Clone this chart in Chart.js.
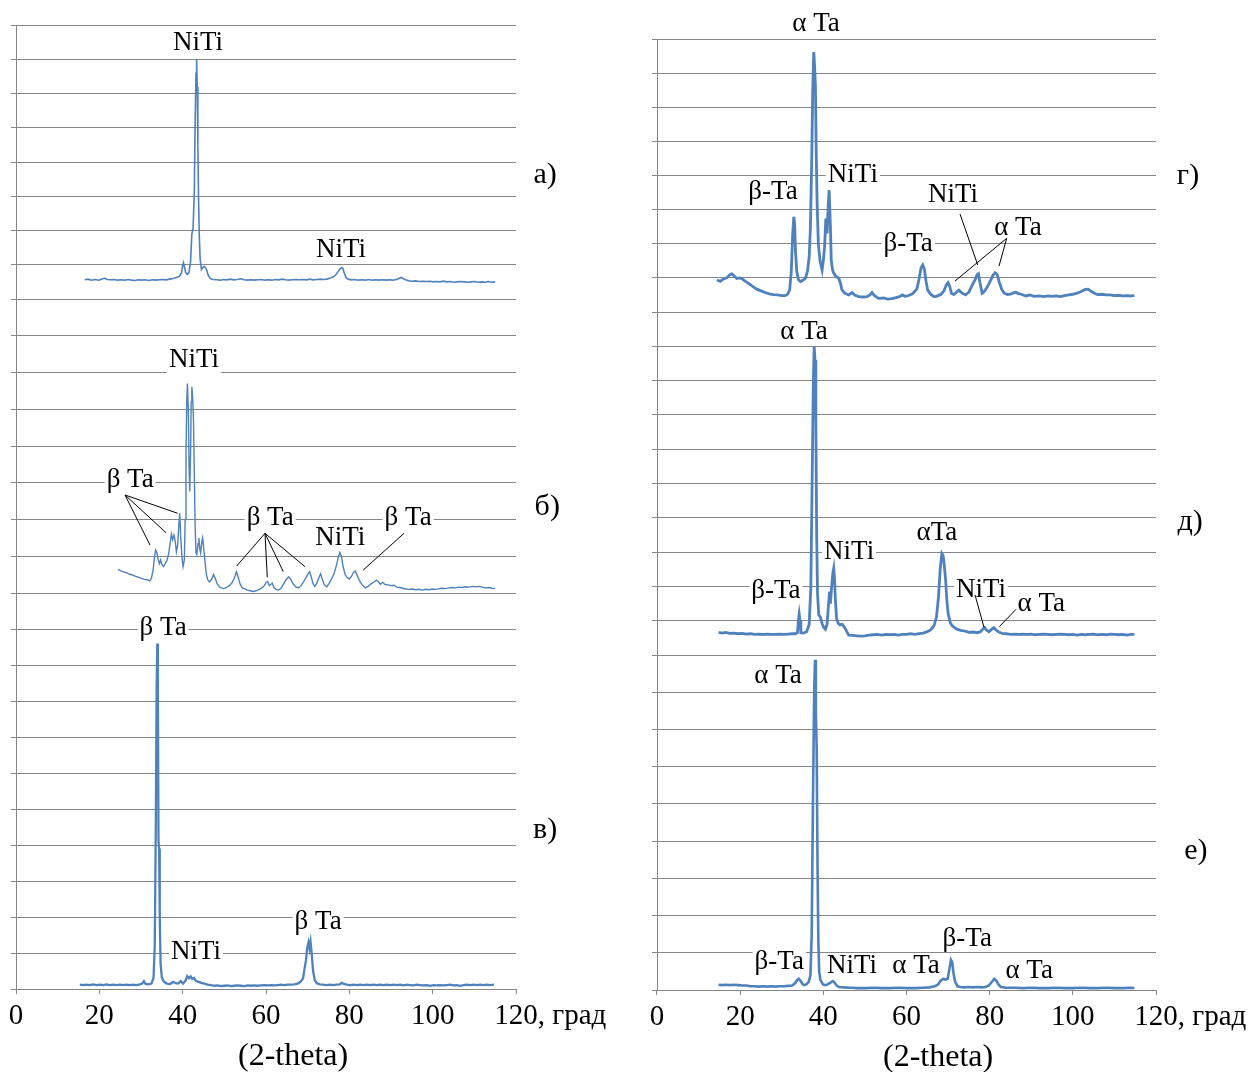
<!DOCTYPE html>
<html lang="ru">
<head>
<meta charset="utf-8">
<title>Рентгенограммы NiTi / Ta</title>
<script src="https://cdn.jsdelivr.net/npm/chart.js@4.4.1/dist/chart.umd.min.js"></script>
<style>
  html, body { margin: 0; padding: 0; background: #ffffff; }
  #wrap { position: relative; width: 1254px; height: 1072px; overflow: hidden; }
  canvas { position: absolute; top: 0; }
  #left { left: 0; }
  #right { left: 627px; }
</style>
</head>
<body>
<div id="wrap">
  <canvas id="left" width="627" height="1072"></canvas>
  <canvas id="right" width="627" height="1072"></canvas>
</div>
<script>
// ---- axis ----
const xTicks = [0, 20, 40, 60, 80, 100, 120];
const axisUnit = 'град';
const axisTitle = '(2-theta)';

// ---- diffraction patterns: [2θ, intensity (grid divisions above the panel floor)] ----
const patternA = [
  [16.5,0.56],[17.3,0.58],[18.1,0.55],[19.0,0.57],[19.8,0.55],[20.6,0.58],[21.2,0.61],[21.9,0.57],[22.7,0.56],[23.5,0.57],
  [24.4,0.55],[25.2,0.56],[26.0,0.55],[26.9,0.57],[27.7,0.55],[28.5,0.54],[29.4,0.56],[30.2,0.55],[31.0,0.56],[31.9,0.54],
  [32.7,0.56],[33.5,0.55],[34.4,0.56],[35.2,0.57],[36.0,0.56],[36.9,0.58],[37.7,0.6],[38.5,0.63],[39.2,0.66],[39.7,0.75],
  [40.0,0.98],[40.2,1.06],[40.4,0.95],[40.7,0.78],[41.1,0.72],[41.5,0.76],[41.9,1.1],[42.2,1.9],[42.5,2.05],[42.8,3.2],
  [43.0,5.2],[43.2,6.6],[43.35,7.0],[43.5,6.2],[43.65,4.5],[43.8,3.0],[44.0,1.8],[44.2,1.15],[44.5,0.86],[44.9,0.93],
  [45.3,0.95],[45.7,0.87],[46.1,0.7],[46.6,0.6],[47.3,0.57],[48.1,0.56],[49.0,0.55],[49.8,0.57],[50.6,0.56],[51.4,0.58],
  [52.3,0.56],[53.1,0.57],[53.9,0.59],[54.7,0.56],[55.6,0.55],[56.4,0.56],[57.2,0.55],[58.0,0.56],[58.9,0.57],[59.7,0.55],
  [60.5,0.56],[61.4,0.55],[62.2,0.57],[63.0,0.56],[63.9,0.58],[64.7,0.56],[65.5,0.55],[66.3,0.56],[67.2,0.57],[68.0,0.56],
  [68.8,0.57],[69.7,0.56],[70.5,0.58],[71.3,0.56],[72.2,0.57],[73.0,0.58],[73.8,0.57],[74.6,0.58],[75.4,0.61],[76.1,0.64],
  [76.7,0.7],[77.3,0.8],[77.8,0.88],[78.2,0.92],[78.5,0.88],[78.8,0.75],[79.2,0.63],[79.7,0.58],[80.5,0.56],[81.3,0.57],
  [82.1,0.55],[83.0,0.56],[83.8,0.55],[84.6,0.57],[85.5,0.55],[86.3,0.56],[87.1,0.55],[88.0,0.56],[88.8,0.55],[89.6,0.56],
  [90.4,0.55],[91.3,0.57],[91.9,0.6],[92.4,0.63],[92.9,0.6],[93.5,0.56],[94.3,0.53],[95.1,0.52],[95.9,0.53],[96.8,0.51],
  [97.6,0.52],[98.4,0.51],[99.3,0.52],[100.1,0.5],[100.9,0.51],[101.8,0.5],[102.6,0.52],[103.4,0.5],[104.2,0.51],[105.1,0.49],
  [105.9,0.5],[106.7,0.51],[107.6,0.5],[108.4,0.49],[109.2,0.5],[110.1,0.51],[110.9,0.49],[111.7,0.5],[112.6,0.49],[113.4,0.51],
  [114.2,0.49],[115.0,0.5]
];

const patternB = [
  [24.5,0.64],[25.2,0.6],[25.9,0.57],[26.6,0.55],[27.3,0.51],[28.0,0.49],[28.7,0.45],[29.4,0.43],[30.1,0.4],[30.8,0.37],
  [31.5,0.36],[32.1,0.33],[32.5,0.4],[32.9,0.62],[33.2,0.95],[33.5,1.17],[33.8,1.1],[34.1,0.92],[34.4,0.8],[34.7,0.9],
  [35.0,0.78],[35.4,0.72],[35.8,0.8],[36.2,0.88],[36.6,1.05],[37.0,1.35],[37.3,1.6],[37.6,1.45],[37.9,1.58],[38.2,1.42],
  [38.5,1.12],[38.8,1.3],[39.1,1.9],[39.3,2.17],[39.5,1.6],[39.8,1.0],[40.1,0.72],[40.4,0.9],[40.6,2.0],[40.8,3.8],
  [41.0,5.3],[41.15,5.7],[41.35,5.0],[41.55,3.4],[41.7,2.76],[41.9,3.8],[42.05,5.2],[42.2,5.61],[42.4,5.3],[42.6,4.7],
  [42.8,3.2],[43.0,1.8],[43.2,1.1],[43.4,1.05],[43.7,1.35],[43.9,1.5],[44.1,1.2],[44.3,1.09],[44.6,1.4],[44.8,1.5],
  [45.1,1.15],[45.4,0.8],[45.7,0.5],[46.0,0.36],[46.4,0.3],[46.9,0.36],[47.4,0.5],[47.8,0.4],[48.3,0.25],[48.8,0.17],
  [49.3,0.14],[49.9,0.12],[50.5,0.15],[51.2,0.2],[51.8,0.27],[52.4,0.4],[52.9,0.58],[53.3,0.44],[53.8,0.24],[54.3,0.14],
  [54.9,0.11],[55.5,0.08],[56.2,0.06],[56.9,0.04],[57.6,0.06],[58.3,0.09],[59.0,0.14],[59.6,0.2],[60.1,0.3],[60.4,0.31],
  [60.8,0.2],[61.2,0.24],[61.5,0.27],[61.9,0.15],[62.4,0.1],[63.0,0.08],[63.6,0.13],[64.2,0.24],[64.8,0.36],[65.4,0.44],
  [65.9,0.38],[66.5,0.25],[67.1,0.17],[67.8,0.14],[68.4,0.2],[69.0,0.3],[69.6,0.42],[70.1,0.52],[70.5,0.58],[70.9,0.42],
  [71.3,0.25],[71.7,0.18],[72.2,0.27],[72.7,0.42],[73.1,0.52],[73.5,0.38],[74.0,0.22],[74.6,0.17],[75.2,0.27],[75.8,0.4],
  [76.4,0.55],[76.9,0.75],[77.3,0.95],[77.7,1.1],[78.1,1.0],[78.5,0.72],[79.0,0.5],[79.5,0.42],[80.0,0.38],[80.5,0.45],
  [81.0,0.56],[81.4,0.6],[81.9,0.48],[82.5,0.32],[83.1,0.22],[83.8,0.14],[84.5,0.18],[85.2,0.25],[85.9,0.3],[86.5,0.35],
  [87.0,0.3],[87.5,0.24],[88.0,0.29],[88.6,0.23],[89.3,0.22],[90.0,0.2],[90.7,0.21],[91.4,0.16],[92.1,0.15],[92.8,0.13],
  [93.5,0.11],[94.3,0.1],[95.1,0.11],[95.9,0.09],[96.7,0.1],[97.5,0.08],[98.3,0.1],[99.1,0.09],[99.9,0.11],[100.7,0.1],
  [101.5,0.12],[102.3,0.13],[103.1,0.12],[103.9,0.14],[104.7,0.15],[105.5,0.14],[106.3,0.16],[107.1,0.15],[107.9,0.17],[108.7,0.16],
  [109.5,0.18],[110.3,0.17],[111.1,0.18],[111.9,0.16],[112.7,0.14],[113.5,0.15],[114.3,0.13],[115.0,0.12]
];

const patternV = [
  [15.3,0.12],[16.1,0.11],[16.9,0.12],[17.7,0.11],[18.5,0.13],[19.3,0.11],[20.1,0.12],[20.9,0.11],[21.7,0.13],[22.5,0.11],
  [23.3,0.12],[24.1,0.11],[24.9,0.12],[25.7,0.11],[26.5,0.12],[27.3,0.11],[28.1,0.12],[28.9,0.11],[29.7,0.13],[30.3,0.15],
  [30.7,0.22],[31.1,0.14],[31.8,0.13],[32.5,0.15],[33.0,0.3],[33.3,1.2],[33.55,4.5],[33.75,8.3],[33.9,9.6],[34.05,8.2],
  [34.2,4.1],[34.35,3.9],[34.5,2.0],[34.7,0.7],[35.0,0.32],[35.5,0.2],[36.2,0.15],[37.0,0.14],[37.7,0.2],[38.3,0.16],
  [38.9,0.15],[39.5,0.22],[40.1,0.15],[40.7,0.24],[41.1,0.36],[41.5,0.3],[41.9,0.35],[42.3,0.28],[42.7,0.31],[43.2,0.22],
  [43.8,0.2],[44.5,0.17],[45.2,0.15],[46.0,0.12],[46.8,0.11],[47.6,0.09],[48.4,0.1],[49.2,0.08],[50.0,0.09],[50.8,0.1],
  [51.6,0.08],[52.4,0.09],[53.2,0.1],[54.0,0.09],[54.8,0.08],[55.6,0.1],[56.4,0.09],[57.2,0.1],[58.0,0.09],[58.8,0.1],
  [59.6,0.11],[60.4,0.1],[61.2,0.11],[62.0,0.1],[62.8,0.11],[63.6,0.12],[64.4,0.11],[65.2,0.12],[66.0,0.12],[66.8,0.13],
  [67.6,0.15],[68.3,0.2],[68.9,0.3],[69.3,0.6],[69.6,0.8],[69.9,1.15],[70.2,1.3],[70.45,1.12],[70.7,1.31],[71.0,0.95],
  [71.3,0.5],[71.7,0.25],[72.2,0.16],[72.9,0.13],[73.7,0.12],[74.5,0.11],[75.3,0.12],[76.1,0.11],[76.9,0.12],[77.7,0.13],
  [78.2,0.17],[78.7,0.14],[79.4,0.12],[80.2,0.11],[81.0,0.12],[81.8,0.11],[82.6,0.12],[83.4,0.11],[84.2,0.12],[85.0,0.11],
  [85.8,0.12],[86.6,0.11],[87.4,0.12],[88.2,0.11],[89.0,0.12],[89.8,0.11],[90.6,0.12],[91.4,0.11],[92.2,0.12],[93.0,0.1],
  [93.8,0.12],[94.6,0.11],[95.4,0.1],[96.2,0.12],[97.0,0.11],[97.8,0.1],[98.6,0.11],[99.4,0.09],[100.2,0.11],[101.0,0.1],
  [101.8,0.11],[102.6,0.1],[103.4,0.11],[104.2,0.12],[105.0,0.1],[105.8,0.11],[106.6,0.09],[107.4,0.11],[108.2,0.12],[109.0,0.11],
  [109.8,0.12],[110.6,0.11],[111.4,0.12],[112.2,0.11],[113.0,0.12],[113.8,0.11],[114.7,0.12]
];

const patternG = [
  [14.4,0.94],[15.2,0.9],[16.0,0.97],[16.8,1.0],[17.4,1.08],[18.0,1.12],[18.6,1.05],[19.2,0.98],[19.8,1.0],[20.4,0.98],
  [21.0,0.92],[22.0,0.84],[23.0,0.75],[24.0,0.67],[25.0,0.62],[26.0,0.57],[27.0,0.53],[28.0,0.51],[29.0,0.5],[30.0,0.48],
  [30.8,0.48],[31.4,0.52],[31.9,0.64],[32.3,1.2],[32.6,2.2],[32.9,2.79],[33.1,2.6],[33.3,1.8],[33.6,1.2],[34.0,0.95],
  [34.5,0.89],[35.0,0.92],[35.7,0.99],[36.2,1.2],[36.6,1.62],[36.9,2.5],[37.2,4.4],[37.45,6.5],[37.7,7.62],[37.9,7.2],
  [38.1,6.6],[38.3,4.6],[38.5,3.2],[38.8,2.0],[39.2,1.5],[39.7,1.23],[40.0,1.5],[40.3,1.91],[40.6,2.74],[40.9,2.3],
  [41.2,3.2],[41.4,3.57],[41.7,2.5],[41.9,1.52],[42.2,1.25],[42.5,1.14],[43.0,1.05],[43.7,0.99],[44.1,0.85],[44.5,0.64],
  [45.2,0.55],[46.1,0.5],[46.9,0.57],[47.5,0.5],[48.5,0.45],[49.5,0.44],[50.5,0.45],[51.2,0.5],[51.7,0.57],[52.3,0.48],
  [53.3,0.4],[54.5,0.41],[55.5,0.38],[56.5,0.39],[57.5,0.42],[58.3,0.45],[59.0,0.5],[59.6,0.46],[60.2,0.47],[60.8,0.5],
  [61.4,0.53],[61.8,0.58],[62.5,0.68],[63.0,0.95],[63.5,1.3],[63.9,1.38],[64.3,1.25],[64.7,0.9],[65.1,0.64],[65.8,0.52],
  [66.5,0.46],[67.0,0.45],[67.6,0.48],[68.3,0.52],[69.0,0.62],[69.6,0.8],[70.0,0.86],[70.4,0.75],[70.8,0.55],[71.4,0.51],
  [72.0,0.58],[72.6,0.64],[73.3,0.56],[74.2,0.5],[75.0,0.58],[75.8,0.79],[76.5,0.95],[77.0,1.1],[77.3,1.12],[77.6,0.9],
  [78.2,0.55],[78.7,0.6],[79.4,0.73],[80.2,0.92],[80.8,1.08],[81.3,1.15],[81.8,1.1],[82.3,0.88],[82.9,0.66],[83.5,0.55],
  [84.3,0.51],[85.0,0.52],[85.7,0.56],[86.3,0.58],[86.9,0.54],[87.6,0.52],[88.7,0.47],[89.7,0.5],[90.7,0.46],[91.9,0.47],
  [93.0,0.45],[94.0,0.47],[95.0,0.46],[96.0,0.47],[97.0,0.45],[98.0,0.48],[99.0,0.5],[100.0,0.52],[101.0,0.55],[102.0,0.6],
  [103.0,0.66],[103.7,0.67],[104.5,0.6],[105.3,0.54],[106.0,0.51],[107.0,0.52],[108.0,0.5],[109.0,0.5],[110.0,0.48],[111.0,0.49],
  [112.0,0.47],[113.0,0.48],[114.0,0.47],[114.8,0.48]
];

const patternD = [
  [14.8,0.66],[15.6,0.64],[16.5,0.66],[17.5,0.63],[18.5,0.64],[19.5,0.62],[20.5,0.63],[21.5,0.61],[22.5,0.62],[23.5,0.6],
  [24.5,0.61],[25.5,0.6],[26.5,0.61],[27.5,0.6],[28.5,0.6],[29.5,0.61],[30.5,0.6],[31.5,0.61],[32.5,0.62],[33.3,0.62],
  [33.8,0.66],[34.0,1.0],[34.2,1.19],[34.4,1.0],[34.6,0.65],[35.2,0.64],[36.0,0.68],[36.6,0.9],[37.0,2.0],[37.3,5.0],
  [37.6,8.0],[37.8,9.0],[38.0,8.6],[38.2,6.8],[38.4,3.5],[38.6,1.8],[38.9,1.17],[39.3,1.1],[39.7,0.92],[40.1,0.8],
  [40.5,0.75],[40.9,0.9],[41.2,1.4],[41.5,1.85],[41.7,1.5],[42.0,2.0],[42.3,2.4],[42.5,2.53],[42.7,2.2],[42.9,1.6],
  [43.2,1.05],[43.6,0.92],[44.0,0.88],[44.5,0.9],[45.0,0.82],[45.4,0.74],[46.1,0.58],[47.0,0.57],[48.0,0.56],[49.0,0.55],
  [50.0,0.56],[51.0,0.58],[52.0,0.59],[53.0,0.6],[54.0,0.58],[55.0,0.6],[56.0,0.59],[57.0,0.6],[58.0,0.58],[59.0,0.6],
  [60.0,0.6],[61.0,0.62],[62.0,0.6],[63.0,0.62],[64.0,0.64],[65.0,0.68],[65.8,0.73],[66.6,0.85],[67.2,1.1],[67.7,1.7],
  [68.1,2.5],[68.5,2.96],[68.8,2.9],[69.1,2.6],[69.4,2.2],[69.7,1.6],[70.0,1.22],[70.5,0.95],[71.0,0.85],[72.0,0.76],
  [73.0,0.72],[74.0,0.7],[75.0,0.66],[76.0,0.67],[77.0,0.65],[77.8,0.68],[78.4,0.76],[78.8,0.8],[79.3,0.72],[79.8,0.68],
  [80.4,0.74],[81.0,0.8],[81.6,0.72],[82.3,0.66],[83.0,0.63],[84.0,0.62],[85.0,0.6],[86.0,0.61],[87.0,0.6],[88.0,0.61],
  [89.0,0.6],[90.0,0.61],[91.0,0.59],[92.0,0.6],[93.0,0.61],[94.0,0.6],[95.0,0.59],[96.0,0.6],[97.0,0.61],[98.0,0.6],
  [99.0,0.59],[100.0,0.6],[101.0,0.58],[102.0,0.6],[103.0,0.59],[104.0,0.6],[105.0,0.61],[106.0,0.59],[107.0,0.6],[108.0,0.59],
  [109.0,0.61],[110.0,0.6],[111.0,0.59],[112.0,0.6],[113.0,0.58],[114.0,0.6],[114.8,0.6]
];

const patternE = [
  [14.8,0.14],[15.6,0.13],[16.5,0.14],[17.5,0.13],[18.5,0.14],[19.5,0.13],[20.5,0.12],[21.5,0.12],[22.5,0.1],[23.5,0.1],
  [24.5,0.09],[25.5,0.1],[26.5,0.09],[27.5,0.1],[28.5,0.09],[29.5,0.1],[30.5,0.1],[31.5,0.11],[32.5,0.12],[33.2,0.18],
  [33.7,0.27],[34.1,0.3],[34.5,0.25],[35.0,0.16],[35.4,0.13],[35.9,0.15],[36.5,0.22],[36.9,0.4],[37.2,1.5],[37.5,5.0],
  [37.8,8.0],[38.0,8.87],[38.2,7.45],[38.4,6.5],[38.6,3.4],[38.8,1.3],[39.0,0.5],[39.3,0.27],[39.9,0.15],[40.5,0.13],
  [41.0,0.15],[41.7,0.2],[42.3,0.24],[42.7,0.2],[43.2,0.12],[43.8,0.08],[45.0,0.07],[46.0,0.06],[47.0,0.06],[48.0,0.05],
  [50.0,0.05],[52.0,0.06],[54.0,0.05],[56.0,0.05],[58.0,0.06],[60.0,0.05],[62.0,0.05],[64.0,0.06],[65.5,0.07],[66.8,0.1],
  [67.6,0.15],[68.2,0.25],[68.8,0.3],[69.4,0.28],[69.9,0.3],[70.3,0.55],[70.7,0.81],[71.0,0.75],[71.3,0.45],[71.7,0.22],
  [72.3,0.1],[73.0,0.08],[74.0,0.07],[75.0,0.08],[76.0,0.07],[77.0,0.08],[78.0,0.07],[79.0,0.08],[79.8,0.12],[80.4,0.2],
  [81.1,0.3],[81.6,0.25],[82.1,0.15],[82.7,0.08],[84.0,0.06],[86.0,0.06],[88.0,0.05],[90.0,0.06],[92.0,0.05],[94.0,0.05],
  [96.0,0.06],[98.0,0.05],[100.0,0.05],[102.0,0.06],[104.0,0.05],[106.0,0.05],[108.0,0.06],[110.0,0.05],[112.0,0.05],[114.0,0.06],
  [114.8,0.05]
];

// ---- phase labels and leader lines (2θ, height in panel divisions) ----
const leftLabels = [
  { axis: 'ya', text: 'NiTi', x: 43.7, y: 7.47 },
  { axis: 'ya', text: 'NiTi', x: 78.0, y: 1.43 },
  { axis: 'yb', text: 'NiTi', x: 42.7, y: 6.34 },
  { axis: 'yb', text: 'β Ta', x: 27.4, y: 3.07 },
  { axis: 'yb', text: 'β Ta', x: 61.0, y: 2.04 },
  { axis: 'yb', text: 'NiTi', x: 77.8, y: 1.5 },
  { axis: 'yb', text: 'β Ta', x: 94.1, y: 2.04 },
  { axis: 'yc', text: 'β Ta', x: 35.3, y: 10.03 },
  { axis: 'yc', text: 'NiTi', x: 43.2, y: 1.03 },
  { axis: 'yc', text: 'β Ta', x: 72.5, y: 1.86 }
];
const leftLeaders = [
  { axis: 'yb', from: [26.16, 2.667], to: [32.16, 1.306] },
  { axis: 'yb', from: [26.16, 2.667], to: [36.0, 1.641] },
  { axis: 'yb', from: [26.16, 2.667], to: [38.8, 2.169] },
  { axis: 'yb', from: [59.76, 1.624], to: [52.97, 0.735] },
  { axis: 'yb', from: [59.76, 1.624], to: [60.31, 0.427] },
  { axis: 'yb', from: [59.76, 1.624], to: [64.15, 0.58] },
  { axis: 'yb', from: [59.76, 1.624], to: [69.36, 0.716] },
  { axis: 'yb', from: [93.12, 1.624], to: [83.35, 0.626] }
];
const leftTags = [
  { axis: 'ya', text: 'а)', x: 127.0, y: 3.62 },
  { axis: 'yb', text: 'б)', x: 127.5, y: 2.34 },
  { axis: 'yc', text: 'в)', x: 127.0, y: 4.42 }
];

const rightLabels = [
  { axis: 'yg', text: 'α Ta', x: 38.24, y: 8.44 },
  { axis: 'yg', text: 'β-Ta', x: 27.9, y: 3.52 },
  { axis: 'yg', text: 'NiTi', x: 47.1, y: 4.01 },
  { axis: 'yg', text: 'NiTi', x: 71.2, y: 3.43 },
  { axis: 'yg', text: 'β-Ta', x: 60.4, y: 2.0 },
  { axis: 'yg', text: 'α Ta', x: 86.8, y: 2.46 },
  { axis: 'yd', text: 'α Ta', x: 35.35, y: 9.42 },
  { axis: 'yd', text: 'β-Ta', x: 28.6, y: 1.87 },
  { axis: 'yd', text: 'NiTi', x: 46.2, y: 3.0 },
  { axis: 'yd', text: 'αTa', x: 67.3, y: 3.56 },
  { axis: 'yd', text: 'NiTi', x: 77.9, y: 1.9 },
  { axis: 'yd', text: 'α Ta', x: 92.4, y: 1.49 },
  { axis: 'ye', text: 'α Ta', x: 29.1, y: 8.44 },
  { axis: 'ye', text: 'β-Ta', x: 29.4, y: 0.75 },
  { axis: 'ye', text: 'NiTi', x: 46.9, y: 0.65 },
  { axis: 'ye', text: 'α Ta', x: 62.3, y: 0.65 },
  { axis: 'ye', text: 'β-Ta', x: 74.6, y: 1.37 },
  { axis: 'ye', text: 'α Ta', x: 89.5, y: 0.51 }
];
const rightLeaders = [
  { axis: 'yg', from: [72.87, 2.872], to: [77.13, 1.377] },
  { axis: 'yg', from: [84.1, 2.16], to: [71.67, 0.908] },
  { axis: 'yg', from: [84.1, 2.16], to: [82.25, 1.348] },
  { axis: 'yd', from: [76.48, 1.749], to: [78.64, 0.808] },
  { axis: 'yd', from: [86.34, 1.332], to: [82.32, 0.825] }
];
const rightTags = [
  { axis: 'yg', text: 'г)', x: 127.7, y: 3.99 },
  { axis: 'yd', text: 'д)', x: 128.2, y: 3.88 },
  { axis: 'ye', text: 'е)', x: 129.6, y: 3.74 }
];

// ---- styling ----
const SERIF = '"Liberation Serif", "Times New Roman", serif';
const TRACE = '#4f81bd';
const GRID = '#868686';
const TICK_LEN = 5;
const TICK_PAD = 5;
const TICK_SIZE = 29;
const LABEL_SIZE = 27;

function decorations(labels, leaders, tags, titleX) {
  const at = (chart, axis, x, y) => ({
    px: chart.scales.x.getPixelForValue(x),
    py: chart.scales[axis].getPixelForValue(y)
  });
  return {
    id: 'decorations',
    beforeDatasetsDraw(chart) {
      const ctx = chart.ctx;
      ctx.save();
      ctx.font = LABEL_SIZE + 'px ' + SERIF;
      ctx.fillStyle = '#ffffff';
      labels.forEach(l => {
        const p = at(chart, l.axis, l.x, l.y);
        const w = ctx.measureText(l.text).width;
        ctx.fillRect(p.px - w / 2 - 2, p.py - 12, w + 4, 25);
      });
      ctx.restore();
    },
    afterDatasetsDraw(chart) {
      const ctx = chart.ctx;
      ctx.save();
      ctx.strokeStyle = '#000000';
      ctx.lineWidth = 1;
      leaders.forEach(s => {
        const a = at(chart, s.axis, s.from[0], s.from[1]);
        const b = at(chart, s.axis, s.to[0], s.to[1]);
        ctx.beginPath();
        ctx.moveTo(a.px, a.py);
        ctx.lineTo(b.px, b.py);
        ctx.stroke();
      });
      ctx.fillStyle = '#000000';
      ctx.textAlign = 'center';
      ctx.textBaseline = 'middle';
      ctx.font = LABEL_SIZE + 'px ' + SERIF;
      labels.forEach(l => {
        const p = at(chart, l.axis, l.x, l.y);
        ctx.fillText(l.text, p.px, p.py);
      });
      ctx.font = '30px ' + SERIF;
      tags.forEach(t => {
        const p = at(chart, t.axis, t.x, t.y);
        ctx.fillText(t.text, p.px, p.py);
      });
      // unit after the last tick label, and the axis caption
      const xs = chart.scales.x;
      const last = xTicks[xTicks.length - 1];
      ctx.font = TICK_SIZE + 'px ' + SERIF;
      const lx = xs.getPixelForValue(last) + ctx.measureText(String(last)).width / 2;
      ctx.textAlign = 'left';
      ctx.fillText(', ' + axisUnit, lx, xs.top + TICK_LEN + TICK_PAD + TICK_SIZE * 0.6);
      ctx.textAlign = 'center';
      ctx.font = '32px ' + SERIF;
      ctx.fillText(axisTitle, xs.getPixelForValue(titleX), xs.top + 68);
      ctx.restore();
    }
  };
}

function panelAxis(max, share, order, axisWidth) {
  return {
    type: 'linear',
    position: 'left',
    stack: 'column',
    stackWeight: share,
    weight: order,
    min: 0,
    max: max,
    ticks: { display: false, stepSize: 1 },
    grid: { color: GRID, lineWidth: 1, drawTicks: true, tickLength: TICK_LEN, tickColor: GRID },
    border: { display: true, color: GRID, width: 1 },
    afterFit(scale) { scale.width = axisWidth; }
  };
}

function xAxis(height) {
  return {
    type: 'linear',
    position: 'bottom',
    min: xTicks[0],
    max: xTicks[xTicks.length - 1],
    afterBuildTicks(scale) { scale.ticks = xTicks.map(v => ({ value: v })); },
    ticks: {
      autoSkip: false,
      maxRotation: 0,
      padding: TICK_PAD,
      color: '#000000',
      font: { family: SERIF, size: TICK_SIZE },
      callback: v => String(v)
    },
    grid: { display: true, drawOnChartArea: false, drawTicks: true, tickLength: TICK_LEN, color: GRID },
    border: { display: true, color: GRID, width: 1 },
    afterFit(scale) { scale.height = height; }
  };
}

function trace(points, axis, width) {
  return {
    data: points.map(([x, y]) => ({ x, y })),
    yAxisID: axis,
    borderColor: TRACE,
    borderWidth: width,
    pointRadius: 0,
    tension: 0,
    fill: false
  };
}

const common = {
  responsive: false,
  animation: false,
  devicePixelRatio: 1,
  events: [],
  plugins: { legend: { display: false }, tooltip: { enabled: false } }
};

new Chart(document.getElementById('left'), {
  type: 'line',
  data: {
    datasets: [
      trace(patternA, 'ya', 1.6),
      trace(patternB, 'yb', 1.4),
      trace(patternV, 'yc', 2.3)
    ]
  },
  options: Object.assign({}, common, {
    layout: { padding: { left: 0, right: 111, top: 25, bottom: 0 } },
    scales: {
      x: xAxis(83),
      ya: panelAxis(8, 274, 3, 16),
      yb: panelAxis(8, 294, 2, 16),
      yc: panelAxis(11, 396, 1, 16)
    }
  }),
  plugins: [decorations(leftLabels, leftLeaders, leftTags, 66.5)]
});

new Chart(document.getElementById('right'), {
  type: 'line',
  data: {
    datasets: [
      trace(patternG, 'yg', 2.8),
      trace(patternD, 'yd', 2.8),
      trace(patternE, 'ye', 2.6)
    ]
  },
  options: Object.assign({}, common, {
    layout: { padding: { left: 14, right: 98, top: 39, bottom: 0 } },
    scales: {
      x: xAxis(82),
      yg: panelAxis(8, 273, 3, 16),
      yd: panelAxis(10, 343, 2, 16),
      ye: panelAxis(9, 335, 1, 16)
    }
  }),
  plugins: [decorations(rightLabels, rightLeaders, rightTags, 67.6)]
});
</script>
</body>
</html>
